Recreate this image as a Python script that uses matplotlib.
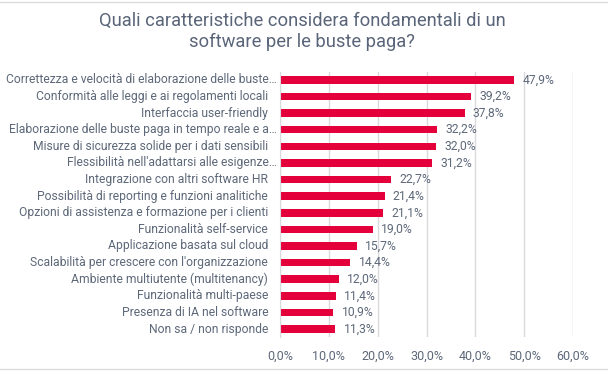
import matplotlib
matplotlib.use('Agg')
import matplotlib.pyplot as plt
from matplotlib.lines import Line2D

# Survey answers, top to bottom as shown
labels = [
    "Correttezza e velocità di elaborazione delle buste…",
    "Conformità alle leggi e ai regolamenti locali",
    "Interfaccia user-friendly",
    "Elaborazione delle buste paga in tempo reale e a…",
    "Misure di sicurezza solide per i dati sensibili",
    "Flessibilità nell'adattarsi alle esigenze…",
    "Integrazione con altri software HR",
    "Possibilità di reporting e funzioni analitiche",
    "Opzioni di assistenza e formazione per i clienti",
    "Funzionalità self-service",
    "Applicazione basata sul cloud",
    "Scalabilità per crescere con l'organizzazione",
    "Ambiente multiutente (multitenancy)",
    "Funzionalità multi-paese",
    "Presenza di IA nel software",
    "Non sa / non risponde",
]
values = [47.9, 39.2, 37.8, 32.2, 32.0, 31.2, 22.7, 21.4, 21.1, 19.0, 15.7, 14.4, 12.0, 11.4, 10.9, 11.3]
xticks = [0, 10, 20, 30, 40, 50, 60]

plt.rcParams['font.family'] = ['Roboto', 'DejaVu Sans']
text_color = '#5d6879'
bar_color = '#e4003b'

fig = plt.figure(figsize=(6.08, 3.75), dpi=100)
ax = fig.add_axes([0.4605, 0.1005, 0.482, 0.7085])

ypos = list(range(len(values)))
ax.barh(ypos, values, height=0.45, color=bar_color, zorder=3)
ax.set_ylim(len(values) - 0.5, -0.5)
ax.set_xlim(0, 60)

for y, v in zip(ypos, values):
    ax.annotate(f"{v:.1f}%".replace('.', ','), xy=(v, y), xytext=(6, 0),
                textcoords='offset points', va='center', ha='left',
                fontsize=8.7, color=text_color)

# category labels; truncated ones sit a bit closer to the axis
ax.set_yticks(ypos)
ax.set_yticklabels([])
for y, lab in zip(ypos, labels):
    off = -2 if lab.endswith('…') else -8.5
    ax.annotate(lab, xy=(0, y), xytext=(off, 0), textcoords='offset points',
                va='center', ha='right', fontsize=8.7, color=text_color)

ax.set_xticks(xticks)
ax.set_xticklabels([f"{t:.1f}%".replace('.', ',') for t in xticks])
ax.tick_params(axis='x', length=0, pad=9, labelsize=9, labelcolor=text_color)
ax.tick_params(axis='y', length=0)
ax.grid(axis='x', color='#d9d9de', linewidth=1, zorder=0)
for s in ['top', 'right', 'bottom']:
    ax.spines[s].set_visible(False)
ax.spines['left'].set_color('#d9d9de')
ax.spines['left'].set_zorder(4)

fig.text(0.497, 0.915, "Quali caratteristiche considera fondamentali di un\nsoftware per le buste paga?",
         ha='center', va='center', fontsize=13.2, color='#5a6579', linespacing=1.2)

# thin frame lines at top and bottom of the chart area
fig.add_artist(Line2D([0, 1], [0.995, 0.995], color='#dcdce0', linewidth=1))
fig.add_artist(Line2D([0, 1], [0.016, 0.016], color='#dcdce0', linewidth=1))

fig.savefig('out.png', dpi=100)
